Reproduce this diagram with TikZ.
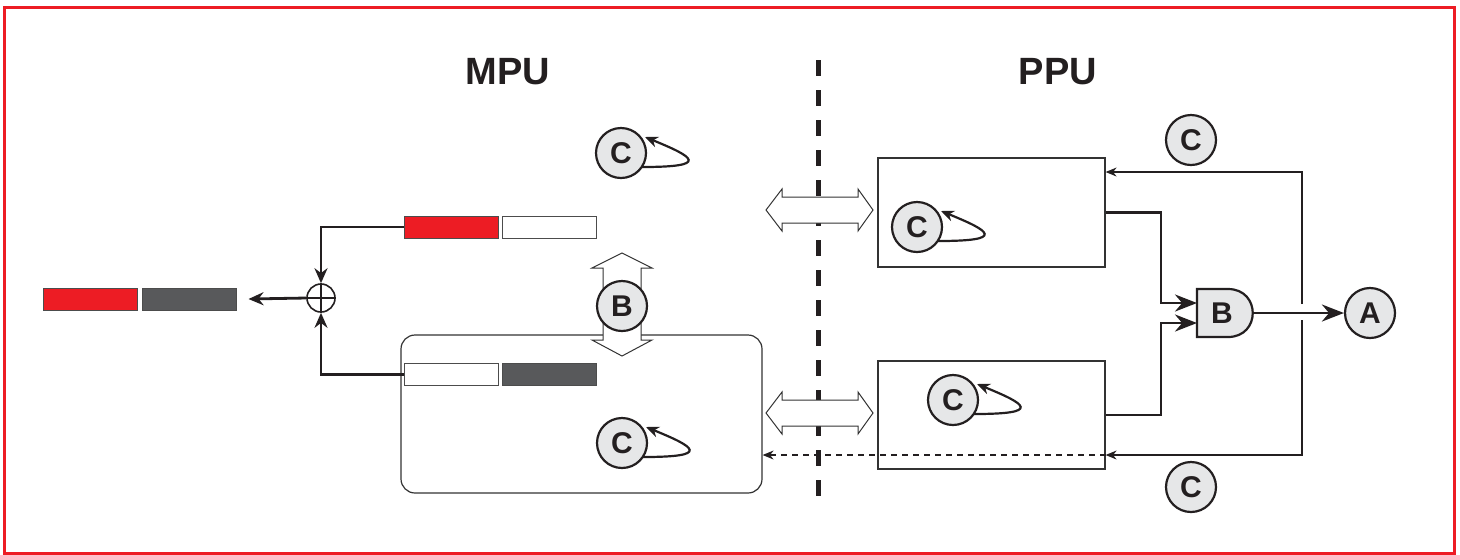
\documentclass[tikz,border=0pt]{standalone}
\usepackage{fontspec}
\setmainfont{Liberation Sans}
\usetikzlibrary{arrows.meta,calc}
\definecolor{frred}{HTML}{ED1C24}
\definecolor{dkgray}{HTML}{58595B}
\definecolor{ltgray}{HTML}{E6E7E8}
\definecolor{ink}{HTML}{231F20}
\tikzset{
  circ/.style={circle,draw=ink,line width=1.1pt,fill=ltgray,minimum size=25pt,inner sep=0pt,font=\bfseries\fontsize{15}{15}\selectfont,text=ink},
  bar/.style={draw=black!70,line width=0.5pt,minimum width=47pt,minimum height=11pt,inner sep=0pt},
  box/.style={draw=black!80,line width=0.6pt,inner sep=0pt},
  thk/.style={draw=ink,line width=1.4pt},
  thkar/.style={thk,-{Stealth[length=11pt,width=8.5pt]}},
  smlar/.style={thk,-{Stealth[length=7.5pt,width=6.5pt]}},
  thinar/.style={draw=ink,line width=0.6pt,-{Stealth[length=5.5pt,width=4.5pt]}},
  loopar/.style={draw=ink,line width=1.1pt,-{Stealth[length=6.5pt,width=5.5pt]}},
  dblar/.style={draw=black!80,line width=0.5pt,fill=white},
  title/.style={font=\bfseries\fontsize{19}{19}\selectfont,text=ink}
}
\begin{document}
\begin{tikzpicture}[x=0.5pt,y=-0.5pt]
\useasboundingbox (0,0) rectangle (1460,554);
% frame
\draw[frred,line width=1.5pt] (4.5,7) rectangle (1454,553);
% titles
\node[title] (mpu) at (508,72) {MPU};
\node[title] (ppu) at (1058,72) {PPU};
% dashed separator
\coordinate (sepT) at (818.5,60);
\coordinate (sepB) at (818.5,502);
\draw[ink,line width=2.5pt,dash pattern=on 8pt off 7pt] (sepT) -- (sepB);
% MPU rounded box
\node[box,rounded corners=7pt,minimum width=180.5pt,minimum height=79pt] (mpuR) at (581.5,414) {};
% bars
\node[bar,fill=frred] (red1) at (451,227) {};
\node[bar,fill=white] (wht1) at (549,227) {};
\node[bar,fill=frred] (redL) at (90.5,299) {};
\node[bar,fill=dkgray] (gryL) at (189,299) {};
\node[bar,fill=white] (wht2) at (451,374.5) {};
\node[bar,fill=dkgray] (gry2) at (549.5,374.5) {};
% oplus
\node[circle,draw=ink,line width=0.8pt,minimum size=14pt,inner sep=0pt] (op) at (321,298) {};
\draw[ink,line width=0.8pt] (op.north) -- (op.south) (op.west) -- (op.east);
\draw[smlar] (red1.west) -| (op.north);
\draw[smlar] (wht2.west) -| (op.south);
\draw[smlar] (op.west) -- ([xshift=6pt]gryL.east);
% vertical double arrow B
\draw[dblar] (622,253) -- (652,268) -- (641,268) -- (641,340) -- (652,340) -- (622,356)
  -- (592,340) -- (603,340) -- (603,268) -- (592,268) -- cycle;
\node[circ] (cB) at (622,306) {B};
% horizontal double arrows
\draw[dblar] (766,210) -- (782,189) -- (782,197) -- (858,197) -- (858,189) -- (873,210)
  -- (858,231) -- (858,223) -- (782,223) -- (782,231) -- cycle;
\draw[dblar] (766,413) -- (782,392) -- (782,400) -- (858,400) -- (858,392) -- (873,413)
  -- (858,434) -- (858,426) -- (782,426) -- (782,434) -- cycle;
% PPU boxes
\node[box,minimum width=113.5pt,minimum height=54.5pt] (ppuT) at (991.5,212.5) {};
\node[box,minimum width=113.5pt,minimum height=54pt] (ppuB) at (991.5,415) {};
% C circles with loops
\node[circ] (c1) at (621,153) {C};
\node[circ] (c2) at (622,443) {C};
\node[circ] (c3) at (917,227) {C};
\node[circ] (c4) at (953,400) {C};
\node[circ] (c5) at (1191,140) {C};
\node[circ] (c6) at (1191,487) {C};
\foreach \c in {c1,c2,c3,c4}{
  \draw[loopar] ($(\c)+(21,14)$) .. controls ($(\c)+(90,14)$) and ($(\c)+(73,4)$) .. ($(\c)+(24,-16)$);
}
% gate B
\draw[draw=ink,line width=1.1pt,fill=ltgray] (1197,289) -- (1228,289) .. controls (1261,289) and (1261,337) .. (1228,337) -- (1197,337) -- cycle;
\node[font=\bfseries\fontsize{15}{15}\selectfont,text=ink] (gateB) at (1222,313) {B};
\node[circ] (cA) at (1370,313) {A};
\coordinate (g1) at (1197,303);
\coordinate (g2) at (1197,323);
\coordinate (gout) at (1252,313);
\coordinate (jx) at (1161,0);
\draw[thkar] (ppuT.east) -| (jx |- g1) -- (g1);
\draw[thkar] (ppuB.east) -| (jx |- g2) -- (g2);
\draw[thkar] (gout) -- (cA.west);
% feedback
\coordinate (fbT) at (1302,172);
\coordinate (fbB) at (1302,455);
\coordinate (gapT) at (1302,304);
\coordinate (gapB) at (1302,320);
\draw[thinar] (gapT) -- (fbT) -- (ppuT.east |- fbT);
\draw[thinar] (gapB) -- (fbB) -- (ppuB.east |- fbB);
\draw[thinar,dash pattern=on 3pt off 2.5pt] (ppuB.east |- fbB) -- (mpuR.east |- fbB);
\end{tikzpicture}
\end{document}
